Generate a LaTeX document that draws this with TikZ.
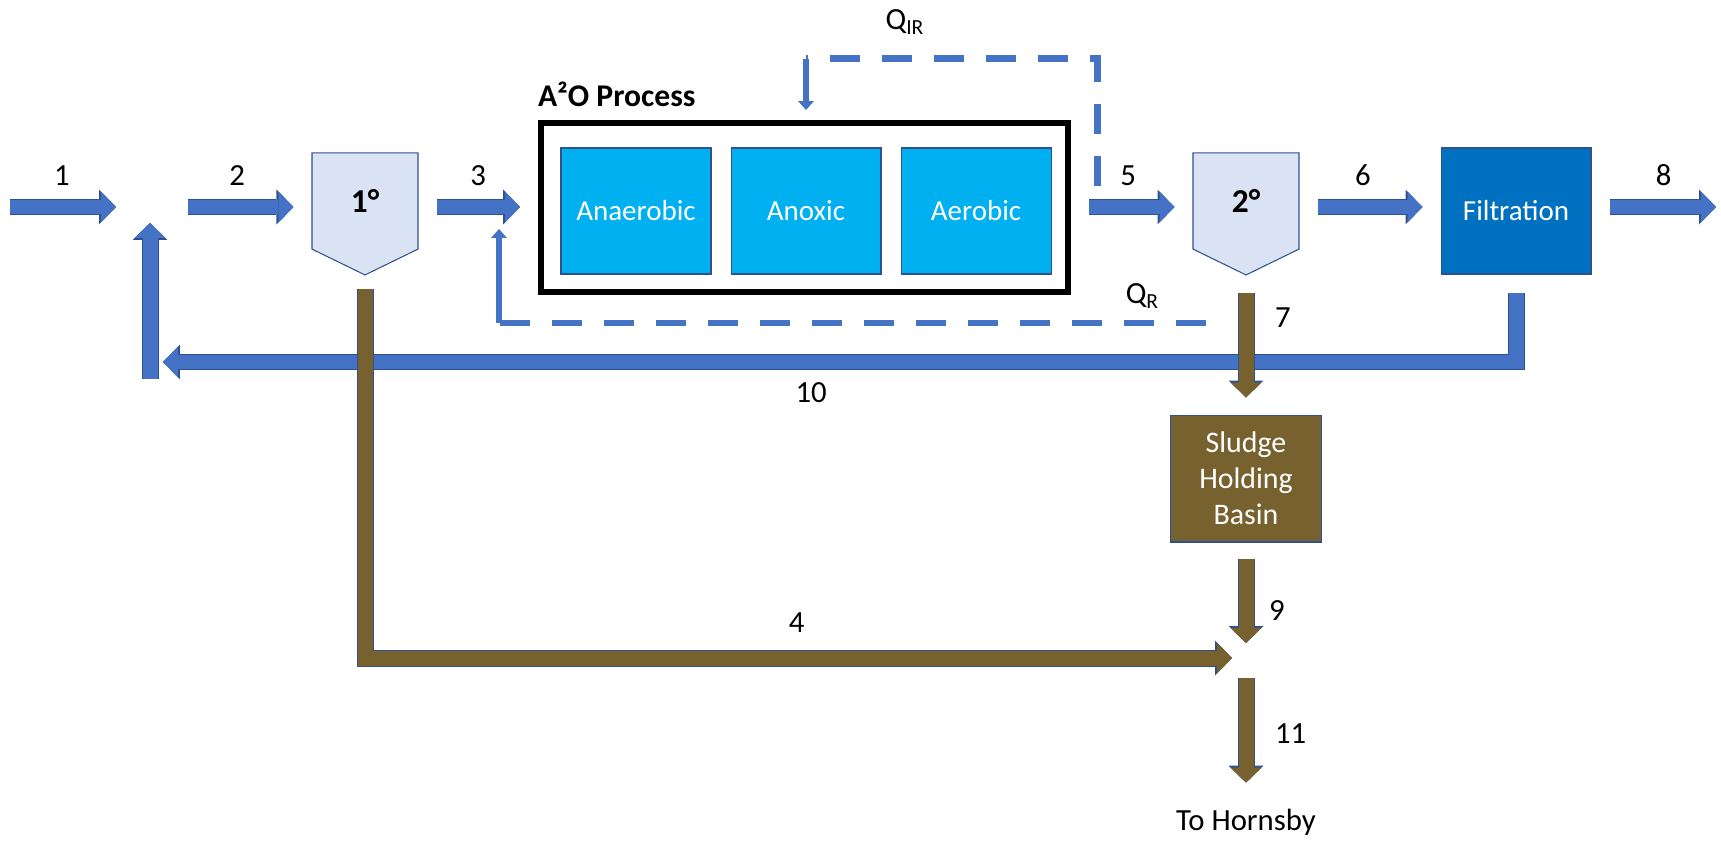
\documentclass[tikz,border=0pt]{standalone}
\usepackage{fontspec}
\setmainfont{Carlito}
\usepackage{xcolor}
\usepackage{tikz}
\usetikzlibrary{shapes.geometric, shapes.symbols, arrows.meta}
\usetikzlibrary{positioning}
\definecolor{flowblue}{HTML}{4472C4}
\definecolor{edgeblue}{HTML}{2F528F}
\definecolor{mud}{HTML}{76612F}
\definecolor{paleblue}{HTML}{DAE3F3}
\definecolor{zoneblue}{HTML}{00B0F0}
\definecolor{filtblue}{HTML}{0070C0}
\tikzstyle{settler} = [signal, signal to=south, signal pointer angle=128, minimum width=2.12cm,
minimum height=2.12cm, draw=edgeblue, fill=paleblue, line width=0.6pt, font=\fontsize{19}{23}\selectfont\bfseries]
\tikzstyle{zone} = [rectangle, minimum width=3cm, minimum height=2.52cm, text centered, draw=edgeblue,
fill=zoneblue, line width=0.6pt, text=white, font=\fontsize{16.5}{20}\selectfont]
\tikzstyle{filter} = [zone, fill=filtblue]
\tikzstyle{basin} = [zone, fill=mud, minimum width=3.02cm, minimum height=2.54cm, align=center,
font=\fontsize{17}{20.5}\selectfont]
\tikzstyle{train} = [rectangle, draw=black, line width=0.12cm, minimum width=10.54cm, minimum height=3.38cm]
\tikzstyle{num} = [inner sep=0pt, outer sep=0pt, font=\fontsize{17.5}{21}\selectfont]
\tikzstyle{heading} = [num, font=\fontsize{18}{22}\selectfont\bfseries]
\tikzstyle{flow} = [line width=0.3cm, draw=flowblue, -{Triangle[width=0.62cm,length=0.3cm,line width=0pt]},
shorten <=0.36cm, shorten >=0.36cm,
preaction={draw=edgeblue, line width=0.34cm, -{Triangle[width=0.7cm,length=0.34cm,line width=0pt]}}]
\tikzstyle{mudflow} = [flow, draw=mud]
\tikzstyle{thinflow} = [line width=0.12cm, draw=flowblue, -{Triangle[width=0.32cm,length=0.18cm,line width=0pt]}]
\tikzstyle{recycle} = [line width=0.14cm, draw=flowblue, dash pattern=on 0.6cm off 0.44cm]

\begin{document}
\begin{tikzpicture}[x=0.02cm, y=-0.02cm]
    \useasboundingbox (0,0) rectangle (1721,841);
    \coordinate (feed) at (10,207);
    \coordinate (mix) at (150,207);
    \coordinate (back) at (150,362);
    \coordinate (join) at (1246,658);
    \coordinate (effluent) at (1716,207);
    \coordinate (irtap) at (1097,186);
    \coordinate (irtop) at (1097,59);
    \coordinate (rtap) at (1206,323);
    \coordinate (rtcorner) at (499,323);

    \node (prim) [settler] at (365,201) {1°};
    \node (anaer) [zone] at (636,211) {Anaerobic};
    \node (anox) [zone, right=0.38cm of anaer] {Anoxic};
    \node (aer) [zone, right=0.38cm of anox] {Aerobic};
    \node (atwoo) [train] at (804.5,207.5) {};
    \node (a2otitle) [heading, above right=0.26cm and 0cm of atwoo.north west] {A²O Process};
    \node (sec) [settler] at (1246,201) {2°};
    \node (filt) [filter] at (1516,211) {Filtration};
    \node (sludge) [basin, below=2.78cm of sec] {Sludge\\Holding\\Basin};
    \node (hornsby) [num, anchor=base] at (1246,830) {To Hornsby};

    % recycle lines
    \draw[recycle] (irtap) |- node[num, pos=0.83, above=0.49cm] {Q\textsubscript{IR}} (anox |- irtop);
    \draw[thinflow, shorten >=0.2cm] (anox |- irtop) -- (anox |- atwoo.north);
    \draw[recycle] (rtap) -- node[num, pos=0.09, above=0.3cm] {Q\textsubscript{R}} (rtcorner);
    \draw[thinflow, shorten >=0.44cm] (rtcorner) -- (rtcorner |- mix);

    \draw[flow, shorten <=0cm, shorten >=0.68cm] (feed) -- node[num, pos=0.37, above=0.43cm] {1} (mix);
    \draw[flow, shorten <=0.76cm] (mix) -- node[num, pos=0.54, above=0.43cm] {2} (mix -| prim.west);
    \draw[flow] (prim.east |- mix) -- node[num, above=0.43cm] {3} (atwoo.west |- mix);
    \draw[flow] (atwoo.east |- mix) -- node[num, pos=0.47, above=0.43cm] {5} (sec.west |- mix);
    \draw[flow] (sec.east |- mix) -- node[num, pos=0.45, above=0.43cm] {6} (filt.west |- mix);
    \draw[flow, shorten >=0cm] (filt.east |- mix) -- node[num, pos=0.58, above=0.43cm] {8} (effluent);
    \draw[flow, shorten >=0.26cm] (filt.south) |- node[num, pos=0.758, below=0.41cm] {10} (back);
    \draw[flow, shorten <=-0.34cm, shorten >=0.32cm] (back) -- (mix);

    \draw[mudflow, shorten <=0.26cm, shorten >=0.28cm] (prim.south) |- node[num, pos=0.745, above=0.51cm] {4} (join);
    \draw[mudflow, shorten <=0.34cm, shorten >=0.34cm] (sec.south) -- node[num, pos=0.3, right=0.58cm] {7} (sludge.north);
    \draw[mudflow, shorten <=0.32cm, shorten >=0.3cm] (sludge.south) -- node[num, pos=0.59, right=0.46cm] {9} (join);
    \draw[mudflow, shorten <=0.4cm, shorten >=0.52cm] (join) -- node[num, right=0.58cm] {11} (hornsby.north);
  \end{tikzpicture}
\end{document}
